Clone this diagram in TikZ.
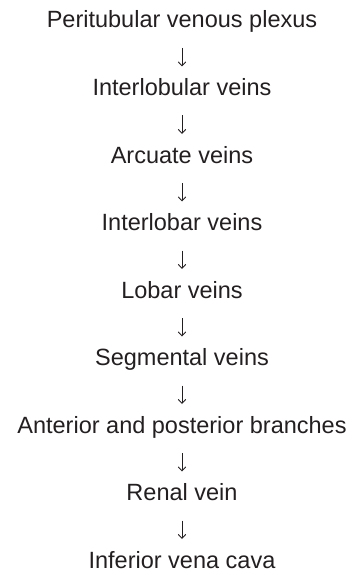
\documentclass[tikz,border=0pt]{standalone}
\usepackage{fontspec}
\setmainfont{Liberation Sans}
\usepackage{tikz}
\usetikzlibrary{arrows.meta, positioning}
\definecolor{inkgray}{RGB}{35,31,32}

\begin{document}
\begin{tikzpicture}[
      node distance=45.5pt,
      every node/.style={font=\fontsize{23.5}{28}\selectfont, text=inkgray},
      vein/.style={inner sep=0pt, outer sep=0pt, text height=17pt, text depth=5pt,
                   align=center},
      drain/.style={-{Straight Barb[length=4pt, width=7.5pt]}, line width=0.9pt,
                    color=inkgray, shorten <=15pt, shorten >=12pt},
    ]
    \useasboundingbox (0,0) rectangle (353pt,-575pt);

    % Venous drainage, top to bottom
    \node[vein] at (182pt,-22pt) (plexus) {Peritubular venous plexus};
    \node[vein, below=of plexus]       (interlobular) {Interlobular veins};
    \node[vein, below=of interlobular] (arcuate)      {Arcuate veins};
    \node[vein, below=of arcuate]      (interlobar)   {Interlobar veins};
    \node[vein, below=of interlobar]   (lobar)        {Lobar veins};
    \node[vein, below=of lobar]        (segmental)    {Segmental veins};
    \node[vein, below=of segmental]    (branches)     {Anterior and posterior branches};
    \node[vein, below=of branches]     (renal)        {Renal vein};
    \node[vein, below=of renal]        (ivc)          {Inferior vena cava};

    % Arrows between levels
    \draw[drain] (plexus)       -- (interlobular);
    \draw[drain] (interlobular) -- (arcuate);
    \draw[drain] (arcuate)      -- (interlobar);
    \draw[drain] (interlobar)   -- (lobar);
    \draw[drain] (lobar)        -- (segmental);
    \draw[drain] (segmental)    -- (branches);
    \draw[drain] (branches)     -- (renal);
    \draw[drain] (renal)        -- (ivc);

  \end{tikzpicture}
\end{document}
